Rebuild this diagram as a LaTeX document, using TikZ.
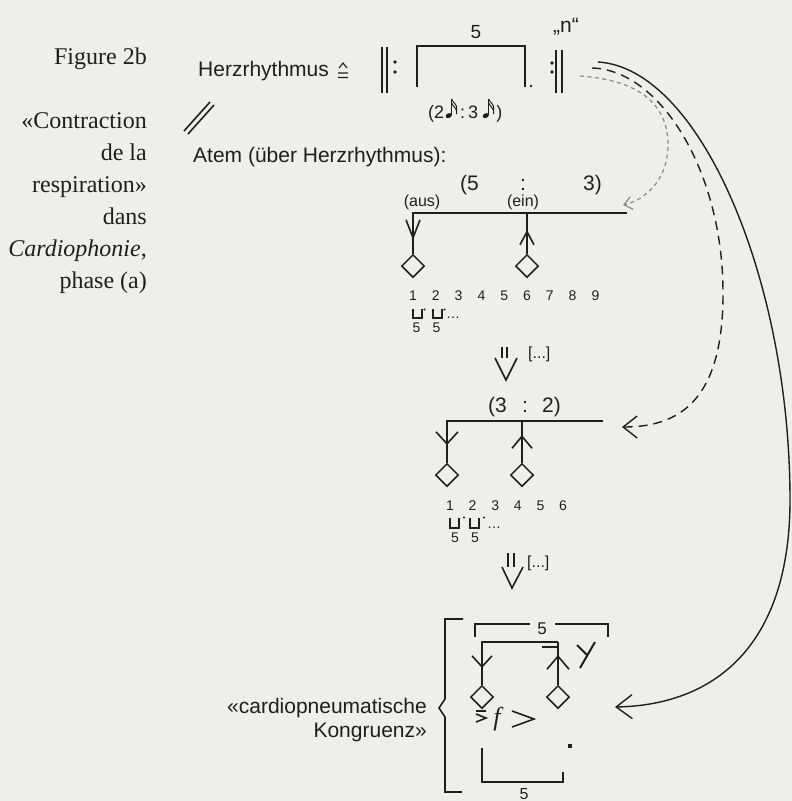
\documentclass[tikz,border=0pt]{standalone}
\usepackage{fontspec}
\setmainfont{Liberation Serif}
\setsansfont{Liberation Sans}
\usetikzlibrary{arrows.meta, shapes.geometric}
\definecolor{ink}{HTML}{1F1F1F}
\definecolor{paper}{HTML}{EFEEEA}
\definecolor{pencil}{HTML}{8A8A8A}
% sixteenth note for the ratio label
\newcommand{\semiq}{\tikz[x=1pt,y=1pt,baseline=0pt,line width=1pt,ink]{%
  \fill (3,2.4) ellipse [x radius=3.3, y radius=2.3, rotate=25];
  \draw (6,2.6) -- (6,19);
  \draw (6,19) .. controls (7,15) and (12,14) .. (11,8);
  \draw (6,15) .. controls (7,11) and (12,10) .. (11,4);}}

\begin{document}
\begin{tikzpicture}[x=1pt, y=-1pt,
  side/.style={font=\fontsize{24}{32}\selectfont, text=ink, inner sep=0pt, anchor=base east},
  lbl/.style={font=\sffamily\fontsize{21}{24}\selectfont, text=ink, inner sep=0pt},
  mid/.style={font=\sffamily\fontsize{16}{18}\selectfont, text=ink, inner sep=0pt},
  num/.style={font=\sffamily\fontsize{14}{16}\selectfont, text=ink, inner sep=0pt, anchor=base},
  dia/.style={diamond, draw=ink, line width=1.5pt, minimum size=23pt, inner sep=0pt},
  ln/.style={draw=ink, line width=1.6pt},
  barb/.style 2 args={ln, -{Straight Barb[length=#1, width=#2]}},
]
  \useasboundingbox (0,0) rectangle (792,801);
  \fill[paper] (0,0) rectangle (792,801);

  % caption
  \node[side] (cap) at (147,64) {Figure 2b};
  \foreach \t [count=\i] in {«Contraction, de la, respiration», dans, {\textit{Cardiophonie},}, phase (a)}
    \node[side] (cap\i) at (147,{96+32*\i}) {\t};

  % heart rhythm
  \node[lbl, anchor=base west] (herz) at (198,76) {Herzrhythmus};
  \coordinate (corr) at (343,70);
  \draw[ln, line width=1.1pt] (339,68) -- (343,63) -- (347,68) (338,73) -- (348,73) (338,77.5) -- (348,77.5);
  \draw[ln] (382,47) -- (382,93) (387,47) -- (387,93);
  \fill[ink] (395,62) circle (1.8) (395,72) circle (1.8);
  \draw[ln] (417,87) -- (417,46) -- (525,46) -- (525,87);
  \fill[ink] (531,86) circle (1.4);
  \node[lbl, font=\sffamily\fontsize{19}{20}\selectfont] (five) at (476,32) {5};
  \node[lbl, font=\sffamily\fontsize{18}{20}\selectfont, anchor=base west] (ratio) at (428,118)
    {(2\kern1pt\semiq\kern2pt:\kern3pt3\kern4pt\semiq\kern1pt)};
  \fill[ink] (552,63) circle (1.8) (552,72) circle (1.8);
  \draw[ln] (556,50) -- (556,93) (562,50) -- (562,93);
  \node[lbl, anchor=base west] (nn) at (553,32) {„n“};
  \draw[ln] (184,131) -- (210,102) (188,134) -- (214,105);

  % breath 5:3
  \node[lbl, anchor=base west] (atem) at (193,162) {Atem (über Herzrhythmus):};
  \node[lbl, anchor=base west] (r1a) at (460,190) {(5};
  \node[lbl, anchor=base] (r1b) at (523,190) {:};
  \node[lbl, anchor=base east] (r1c) at (602,190) {3)};
  \node[mid, anchor=base] (aus) at (422,206) {(aus)};
  \node[mid, anchor=base] (ein) at (523,206) {(ein)};
  \coordinate (b1l) at (413,213);
  \coordinate (b1r) at (627,213);
  \node[dia] (d1a) at (413,266) {};
  \node[dia] (d1b) at (527,266) {};
  \draw[ln] (b1r) -- (b1l) -- (d1a.north);
  \draw[ln] (d1b.north) -- (d1b.north |- b1l);
  \draw[barb={18pt}{14pt}] (413,222) -- (413,240);
  \draw[barb={13pt}{14pt}] (527,243) -- (527,230);
  \foreach \i in {1,...,9}
    \node[num] (n1\i) at ({413+22.8*(\i-1)},300) {\i};
  \foreach \x in {413,433} {
    \draw[ln, line width=1.1pt] (\x,309) -- (\x,318) -- (\x+9,318) -- (\x+9,309);
    \fill[ink] (\x+11.5,309.5) circle (1.2);
  }
  \node[num, anchor=base west] (dots1) at (446,318) {\ldots};
  \node[num] (q1a) at (416.5,332) {5};
  \node[num] (q1b) at (436.5,332) {5};
  \draw[ln] (502,347) -- (502,358) (507,347) -- (507,358);
  \draw[ln] (495,358) -- (506,380) -- (517,358);
  \node[mid, anchor=base west] (gap1) at (528,358) {[...]};

  % breath 3:2
  \node[lbl, anchor=base west] (r2a) at (488,412) {(3};
  \node[lbl, anchor=base] (r2b) at (525,412) {:};
  \node[lbl, anchor=base east] (r2c) at (561,412) {2)};
  \coordinate (b2l) at (447,421);
  \coordinate (b2r) at (603,421);
  \node[dia] (d2a) at (447,475) {};
  \node[dia] (d2b) at (522,475) {};
  \draw[ln] (b2r) -- (b2l) -- (d2a.north);
  \draw[ln] (d2b.north) -- (d2b.north |- b2l);
  \draw[barb={12pt}{22pt}] (447,433) -- (447,445);
  \draw[barb={12pt}{20pt}] (522,447) -- (522,435);
  \foreach \i in {1,...,6}
    \node[num] (n2\i) at ({450+22.6*(\i-1)},510) {\i};
  \foreach \x in {450,470} {
    \draw[ln, line width=1.1pt] (\x,518) -- (\x,528) -- (\x+9,528) -- (\x+9,518);
    \fill[ink] (\x+14,517.5) circle (1.2);
  }
  \node[num, anchor=base west] (dots2) at (487,528) {\ldots};
  \node[num] (q2a) at (455,542) {5};
  \node[num] (q2b) at (475,542) {5};
  \draw[ln] (508,553) -- (508,567) (514,553) -- (514,567);
  \draw[ln] (502,567) -- (512,588) -- (523,567);
  \node[mid, anchor=base west] (gap2) at (527,567) {[...]};

  % cardiopneumatic congruence
  \node[lbl, anchor=base east] (kong1) at (427,713) {«cardiopneumatische};
  \node[lbl, anchor=base east] (kong2) at (427,737) {Kongruenz»};
  \draw[ln] (463,619) -- (445,619) -- (445,699) -- (439,708) -- (445,717) -- (445,792) -- (462,792);
  \draw[ln] (475,637) -- (475,624) -- (530,624) (555,624) -- (608,624) -- (608,637);
  \node[mid, font=\sffamily\fontsize{17}{18}\selectfont] (five3) at (542,629) {5};
  \coordinate (b3l) at (482,642);
  \coordinate (b3r) at (558,642);
  \node[dia] (d3a) at (482,697) {};
  \node[dia] (d3b) at (558,697) {};
  \draw[ln] (b3r) -- (b3l) -- (d3a.north);
  \draw[ln] (d3b.north) -- (b3r);
  \draw[ln] (542,647) -- (558,647);
  \draw[barb={11pt}{20pt}] (482,657) -- (482,668);
  \draw[barb={13pt}{22pt}] (558,668) -- (558,655);
  \draw[ln, line width=2pt] (577,645) -- (587,655) (595,642) -- (580,668);
  \draw[ln, line width=1.6pt] (476,711) -- (486,711) (476,714) -- (486,718) -- (476,722);
  \node[text=ink, inner sep=0pt, font=\fontsize{26}{26}\selectfont\itshape] (forte) at (497,719) {f};
  \draw[ln, line width=1.6pt] (512,711) -- (534,719) -- (512,727);
  \fill[ink] (568,744) rectangle (572,748);
  \draw[ln] (482,748) -- (482,782) -- (563,782) -- (563,772);
  \node[mid, font=\sffamily\fontsize{16}{18}\selectfont, anchor=base] (five4) at (524,799) {5};

  % return arcs
  \coordinate (s1) at (598,62);
  \coordinate (s2) at (592,68);
  \coordinate (s3) at (580,76);
  \coordinate (t1) at (615,707);
  \coordinate (t2) at (622,427);
  \coordinate (t3) at (623,205);
  \draw[draw=pencil, line width=1.2pt, dash pattern=on 4pt off 3.5pt,
        -{Straight Barb[length=8pt, width=13pt]}]
    (s3) .. controls (640,80) and (668,105) .. (668,145)
         .. controls (668,180) and (645,200) .. (t3);
  \draw[draw=ink, line width=1.4pt, dash pattern=on 9pt off 6pt,
        -{Straight Barb[length=14pt, width=22pt]}]
    (s2) .. controls (660,70) and (722,170) .. (723,290)
         .. controls (724,400) and (680,427) .. (t2);
  \draw[draw=ink, line width=1.4pt, -{Straight Barb[length=16pt, width=24pt]}]
    (s1) .. controls (700,68) and (790,280) .. (790,500)
         .. controls (790,640) and (720,705) .. (t1);
\end{tikzpicture}
\end{document}
